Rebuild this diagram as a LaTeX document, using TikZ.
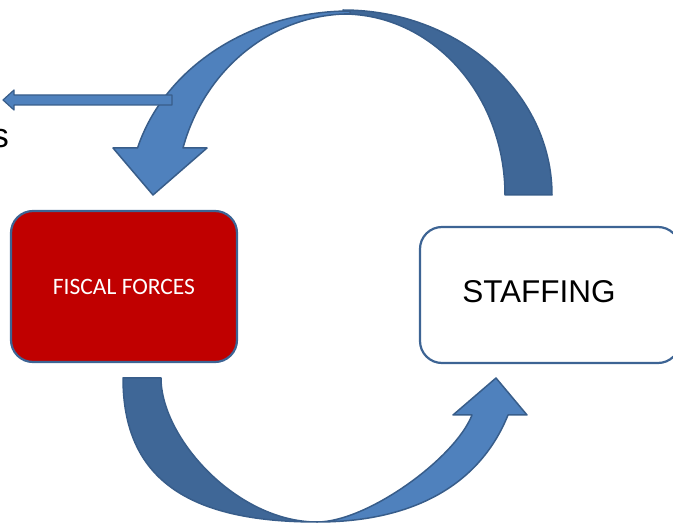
\documentclass[tikz,border=0pt]{standalone}
\usepackage{fontspec}
\setmainfont{Liberation Sans}
\newfontfamily\calibri{Carlito}
\definecolor{arrowlight}{HTML}{4F81BD}
\definecolor{arrowdark}{HTML}{3F6797}
\definecolor{arrowedge}{HTML}{385D8A}
\definecolor{boxedge}{HTML}{3D6494}
\definecolor{fiscalred}{HTML}{C00000}

\begin{document}
\begin{tikzpicture}[x=1pt,y=1pt,
  bandlight/.style={fill=arrowlight, draw=arrowedge, line width=1.5pt, line join=round},
  banddark/.style={fill=arrowdark, draw=arrowedge, line width=1.5pt, line join=round},
  roundbox/.style={draw=boxedge, line width=2.2pt, rounded corners=22pt, inner sep=0pt}
]
\useasboundingbox (0,0) rectangle (673,523);
\clip (0,0) rectangle (673,523);

% upper curved arrow: dark rising band on the right
\draw[banddark] (552,328) arc[start angle=0,end angle=90,x radius=209,y radius=185]
  -- (343,509) arc[start angle=90,end angle=0,x radius=162,y radius=181] -- cycle;
% upper curved arrow: light band coming down with its head
\draw[bandlight] (350,512) arc[start angle=90,end angle=164,x radius=221,y radius=189]
  -- (113,375) -- (153,328) -- (207,375) -- (183,375)
  arc[start angle=163.8,end angle=90,x radius=174,y radius=186] -- cycle;

% lower curved arrow: dark band leaving the red box
\draw[banddark] (123,145) .. controls (123,45) and (187,1) .. (317,1)
  .. controls (237,1) and (161,85) .. (161,145) -- cycle;
% lower curved arrow: light band rising with its head
\draw[bandlight] (317,1) .. controls (417,1) and (481,41) .. (508,108)
  -- (527,108) -- (496,145) -- (453,108) -- (472,108)
  .. controls (455,64.5) and (367,1) .. (317,1) -- cycle;

% boxes
\node[roundbox, fill=fiscalred, minimum width=226pt, minimum height=151pt,
  text=white, font=\calibri\fontsize{23.5}{28}\selectfont] (fiscal) at (124,236.5) {FISCAL FORCES};
\node[roundbox, fill=white, minimum width=260pt, minimum height=136pt] (staffing) at (550,228) {};
\node[inner sep=0pt, font=\fontsize{31.5}{37}\selectfont] (staffinglabel) at (539,231) {STAFFING};

% partial word at the left edge
\node[anchor=base east, inner sep=0pt, font=\fontsize{34}{40}\selectfont] (partword) at (9,375) {s};

% thin arrow pointing out to the left
\draw[bandlight, line width=1.2pt] (172,428) -- (14,428) -- (14,433) -- (3,423)
  -- (14,413) -- (14,418) -- (172,418) -- cycle;
\end{tikzpicture}
\end{document}
